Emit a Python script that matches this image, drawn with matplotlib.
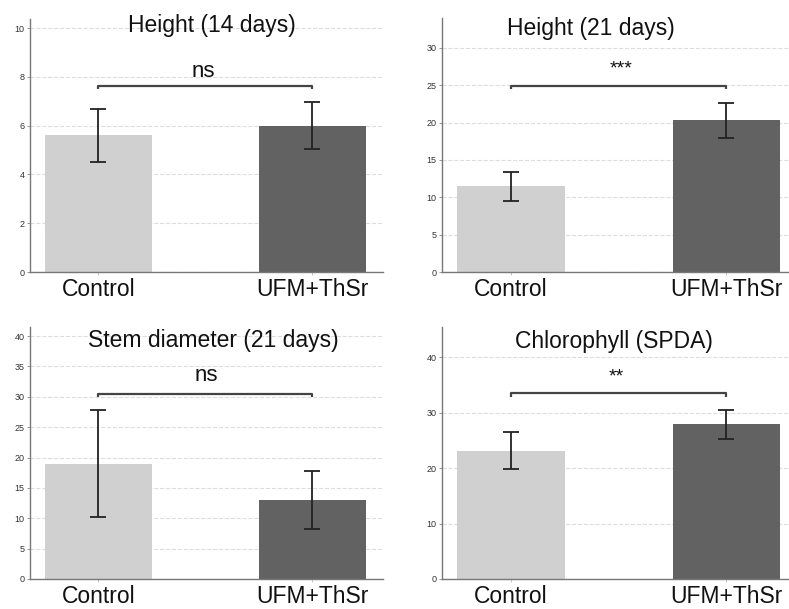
import matplotlib
matplotlib.use("Agg")
import matplotlib.pyplot as plt

plt.rcParams['font.family'] = ['Liberation Sans', 'DejaVu Sans']

# data
groups = ["Control", "UFM+ThSr"]
titles = ["Height (14 days)", "Height (21 days)", "Stem diameter (21 days)", "Chlorophyll (SPDA)"]
means = [[5.6, 6.0], [11.5, 20.3], [19.0, 13.0], [23.2, 27.9]]
errs = [[1.08, 0.95], [1.95, 2.3], [8.8, 4.8], [3.4, 2.65]]
signif = ["ns", "***", "ns", "**"]
bracket_y = [7.62, 24.9, 30.5, 33.5]
tick_sets = [[0, 2, 4, 6, 8, 10], [0, 5, 10, 15, 20, 25, 30],
             [0, 5, 10, 15, 20, 25, 30, 35, 40], [0, 10, 20, 30, 40]]
ytops = [10.37, 34.0, 41.5, 45.5]

# text placement (data coords)
title_xy = [(0.53, 10.1), (0.37, 32.6), (0.535, 39.3), (0.476, 42.9)]
sig_xy = [(0.49, 8.2), (0.51, 27.2), (0.505, 33.5), (0.49, 36.5)]

bar_colors = ["#d0d0d0", "#626262"]

W, H = 789, 609
fig = plt.figure(figsize=(W / 100, H / 100), dpi=100)

# axes boxes in pixels: left, top, right, bottom
boxes = [(30, 19, 383, 272), (442, 18, 789, 272),
         (30, 327, 383, 579), (442, 327, 789, 579)]
xlims = [(-0.32, 1.33), (-0.32, 1.29), (-0.32, 1.33), (-0.32, 1.29)]

for i in range(4):
    l, t, r, b = boxes[i]
    ax = fig.add_axes([l / W, 1 - b / H, (r - l) / W, (b - t) / H])
    x = [0, 1]
    ax.bar(x, means[i], width=0.5, color=bar_colors, zorder=2)
    ax.errorbar(x, means[i], yerr=errs[i], fmt="none", ecolor="#222222",
                elinewidth=1.3, capsize=5.5, capthick=1.3, zorder=3)

    # significance bracket
    by = bracket_y[i]
    drop = ytops[i] * 0.013
    ax.plot([0, 0, 1, 1], [by - drop, by, by, by - drop], color="#444444",
            lw=1.6, zorder=3, solid_capstyle="butt")
    fs = 16 if signif[i] == "ns" else 14
    ax.text(sig_xy[i][0], sig_xy[i][1], signif[i], ha="center", va="center",
            fontsize=fs, color="#111111")

    ax.text(title_xy[i][0], title_xy[i][1], titles[i], ha="center", va="center",
            fontsize=16.5, color="#111111")

    ax.set_xlim(*xlims[i])
    ax.set_ylim(0, ytops[i])
    ax.set_xticks(x)
    ax.set_xticklabels(groups, fontsize=16.5, color="#111111")
    ax.set_yticks(tick_sets[i])
    ax.tick_params(axis="y", labelsize=6.5, labelcolor="#333333", length=2, width=0.6, color="#888888", pad=2)
    ax.tick_params(axis="x", length=2, width=0.6, color="#bbbbbb", pad=2)
    ax.grid(axis="y", linestyle="--", color="#dddddd", lw=0.8, zorder=0)
    ax.set_axisbelow(True)
    for s in ["top", "right"]:
        ax.spines[s].set_visible(False)
    for s in ["left", "bottom"]:
        ax.spines[s].set_color("#777777")
        ax.spines[s].set_linewidth(1.0)

fig.savefig("out.png", dpi=100)
